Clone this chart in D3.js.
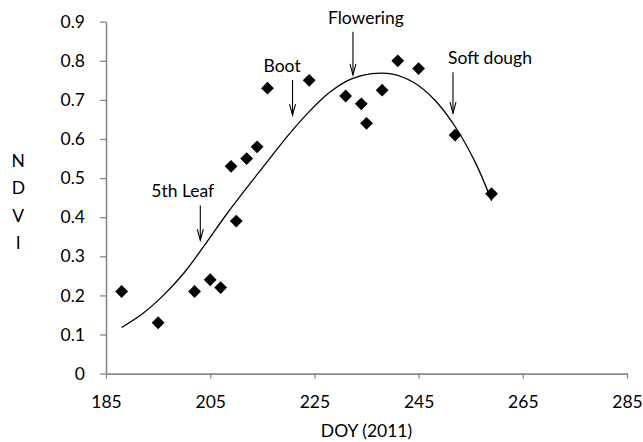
<!DOCTYPE html>
<html>
<head>
<meta charset="utf-8">
<script src="https://cdn.jsdelivr.net/npm/d3@7"></script>
<style>
  html, body { margin: 0; padding: 0; background: #fff; }
  svg { display: block; font-family: Lato, "Open Sans", sans-serif; }
</style>
</head>
<body>
<svg id="chart" width="643" height="442"></svg>
<script>
// ---- data ----
const obsDOY  = [188, 195, 202, 205, 207, 209, 210, 212, 214, 216, 224, 231, 234, 235, 238, 241, 245, 252, 259];
const obsNDVI = [0.21, 0.13, 0.21, 0.24, 0.22, 0.53, 0.39, 0.55, 0.58, 0.73, 0.75, 0.71, 0.69, 0.64, 0.725, 0.80, 0.78, 0.61, 0.46];

const fitDOY  = [188, 192, 196, 200, 204, 208, 212, 216, 220, 224, 228, 232, 236, 240, 244, 248, 252, 256, 259];
const fitNDVI = [0.118, 0.153, 0.200, 0.258, 0.330, 0.405, 0.475, 0.543, 0.610, 0.670, 0.720, 0.753, 0.767, 0.766, 0.745, 0.701, 0.632, 0.537, 0.442];

const stageNames = ["5th Leaf", "Boot", "Flowering", "Soft dough"];
const stageDOY   = [203.1, 220.8, 232.4, 251.6];
const stageTop   = [0.43, 0.751, 0.874, 0.771];
const stageTip   = [0.341, 0.661, 0.764, 0.666];

const xTicks = [185, 205, 225, 245, 265, 285];
const yTicks = [0, 0.1, 0.2, 0.3, 0.4, 0.5, 0.6, 0.7, 0.8, 0.9];
const xTitle = "DOY (2011)";
const yTitle = ["N", "D", "V", "I"];

// ---- layout ----
const plotLeft = 106, plotRight = 627, plotTop = 21.7, plotBottom = 373.6;
const axisColor = "#898989";
const fontSize = 17.5;
const labelDx = [-49, -29, -25, -5];

const svg = d3.select("#chart");
const x = d3.scaleLinear().domain([185, 285]).range([plotLeft, plotRight]);
const y = d3.scaleLinear().domain([0, 0.9]).range([plotBottom, plotTop]);

// axes
const gx = svg.append("g").attr("transform", `translate(0,${plotBottom})`)
  .call(d3.axisBottom(x).tickValues(xTicks).tickFormat(d3.format("d")).tickSizeInner(5).tickSizeOuter(0).tickPadding(17));
const gy = svg.append("g").attr("transform", `translate(${plotLeft},0)`)
  .call(d3.axisLeft(y).tickValues(yTicks).tickFormat(d => d === 0 ? "0" : d3.format(".1f")(d)).tickSizeInner(6).tickSizeOuter(0).tickPadding(15));
[gx, gy].forEach(g => {
  g.select(".domain").attr("stroke", axisColor).attr("stroke-width", 1.6);
  g.selectAll(".tick line").attr("stroke", axisColor).attr("stroke-width", 1.3);
  g.selectAll(".tick text").attr("fill", "#000").style("font-size", fontSize + "px").style("font-family", "Lato, sans-serif");
});

// axis titles
svg.append("text").attr("x", (plotLeft + plotRight) / 2).attr("y", 437)
  .attr("text-anchor", "middle").style("font-size", fontSize + "px").text(xTitle);
svg.selectAll(".ylet").data(yTitle).enter().append("text")
  .attr("x", 18.3).attr("y", (d, i) => 166.5 + i * 27.5)
  .attr("text-anchor", "middle").style("font-size", fontSize + "px").text(d => d);

// fitted curve
const fit = fitDOY.map((d, i) => [d, fitNDVI[i]]);
svg.append("path").datum(fit)
  .attr("fill", "none").attr("stroke", "#000").attr("stroke-width", 1.3)
  .attr("d", d3.line().x(d => x(d[0])).y(d => y(d[1])).curve(d3.curveCatmullRom.alpha(0.5)));

// observed diamonds
const r = 6.4;
svg.selectAll(".pt").data(obsDOY.map((d, i) => [d, obsNDVI[i]])).enter().append("path")
  .attr("transform", d => `translate(${x(d[0])},${y(d[1])})`)
  .attr("d", `M0,${-r}L${r},0L0,${r}L${-r},0Z`)
  .attr("fill", "#000");

// stage arrows
stageNames.forEach((name, i) => {
  const ax = x(stageDOY[i]), y0 = y(stageTop[i]), y1 = y(stageTip[i]);
  svg.append("line").attr("x1", ax).attr("x2", ax).attr("y1", y0).attr("y2", y1)
    .attr("stroke", "#000").attr("stroke-width", 1.1);
  svg.append("path").attr("d", `M${ax - 3},${y1 - 11}L${ax},${y1}L${ax + 3},${y1 - 11}`)
    .attr("fill", "none").attr("stroke", "#000").attr("stroke-width", 1.1);
  svg.append("text").attr("x", ax + labelDx[i]).attr("y", y0 - 8)
    .style("font-size", fontSize + "px").text(name);
});
</script>
</body>
</html>
